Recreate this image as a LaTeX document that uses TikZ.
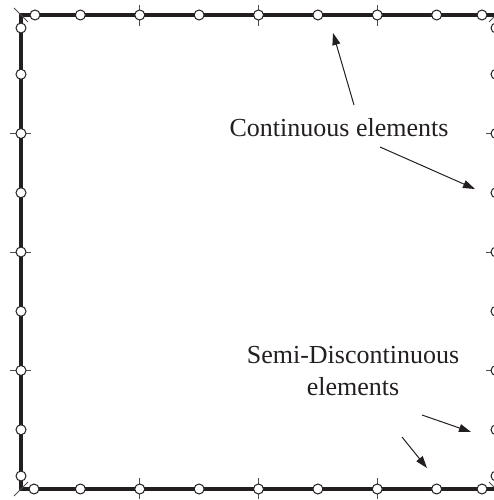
\documentclass[tikz,border=0pt]{standalone}
\usepackage{fontspec}
\setmainfont{Liberation Serif}
\usepackage{xcolor}
\usetikzlibrary{arrows.meta}
\definecolor{ink}{HTML}{231F20}

\begin{document}
\begin{tikzpicture}[x=1pt,y=-1pt,
  boundary/.style={draw=ink, line width=3.2pt},
  gridtick/.style={draw=ink!80, line width=0.9pt},
  bnode/.style={shape=circle, draw=ink, fill=white, line width=1pt,
    inner sep=0pt, minimum size=10pt},
  elemtext/.style={text=ink, font=\fontsize{26}{32}\selectfont,
    inner sep=0pt, align=center},
  pointer/.style={draw=ink, line width=1pt, -{Triangle[length=12pt,width=8pt]}}]
\useasboundingbox (0,0) rectangle (493,500);

\coordinate (tl) at (21,15);
\coordinate (tr) at (496,15);
\coordinate (br) at (496,489);
\coordinate (bl) at (21,489);
\draw[boundary] (tl) -- (tr) -- (br) -- (bl) -- cycle;

% corner ticks
\draw[gridtick] (tl) ++(-7,-7) -- ++(14,14);
\draw[gridtick] (tr) ++(7,-7) -- ++(-14,14);
\draw[gridtick] (bl) ++(-7,7) -- ++(14,-14);
\draw[gridtick] (br) ++(7,7) -- ++(-14,-14);

% shared nodes of continuous elements
\foreach \k in {1,2,3} {
  \draw[gridtick] ({21+118.75*\k},5) -- ++(0,21);
  \draw[gridtick] ({21+118.75*\k},478) -- ++(0,21);
  \draw[gridtick] (10,{15+118.5*\k}) -- ++(21,0);
  \draw[gridtick] (486,{15+118.5*\k}) -- ++(21,0);
  \node[bnode] (top-j\k) at ({21+118.75*\k},15) {};
  \node[bnode] (bot-j\k) at ({21+118.75*\k},489) {};
  \node[bnode] (lft-j\k) at (21,{15+118.5*\k}) {};
  \node[bnode] (rgt-j\k) at (496,{15+118.5*\k}) {};
}

% mid nodes
\foreach \k in {1,...,4} {
  \node[bnode] (top-m\k) at ({21+118.75*(\k-0.5)},15) {};
  \node[bnode] (bot-m\k) at ({21+118.75*(\k-0.5)},489) {};
  \node[bnode] (lft-m\k) at (21,{15+118.5*(\k-0.5)}) {};
  \node[bnode] (rgt-m\k) at (496,{15+118.5*(\k-0.5)}) {};
}

% discontinuous nodes next to the corners
\node[bnode] (top-d1) at (35,15) {};
\node[bnode] (top-d2) at (482,15) {};
\node[bnode] (bot-d1) at (34,489) {};
\node[bnode] (bot-d2) at (482,489) {};
\node[bnode] (lft-d1) at (21,28) {};
\node[bnode] (lft-d2) at (21,476) {};
\node[bnode] (rgt-d1) at (496,28) {};
\node[bnode] (rgt-d2) at (496,476) {};

% labels
\node[elemtext, anchor=base] (cont) at (339,136) {Continuous elements};
\node[elemtext, anchor=base] (semi) at (353,395) {Semi-Discontinuous\\elements};

\coordinate (cont-a) at (354,105);
\coordinate (cont-b) at (380,147);
\coordinate (semi-a) at (422,415);
\coordinate (semi-b) at (402,437);
\coordinate (top-p) at (333,33);
\coordinate (rgt-p) at (475,189);
\coordinate (rgt-q) at (471,432);
\coordinate (bot-p) at (427,468);
\draw[pointer] (cont-a) -- (top-p);
\draw[pointer] (cont-b) -- (rgt-p);
\draw[pointer] (semi-a) -- (rgt-q);
\draw[pointer] (semi-b) -- (bot-p);
\end{tikzpicture}
\end{document}
